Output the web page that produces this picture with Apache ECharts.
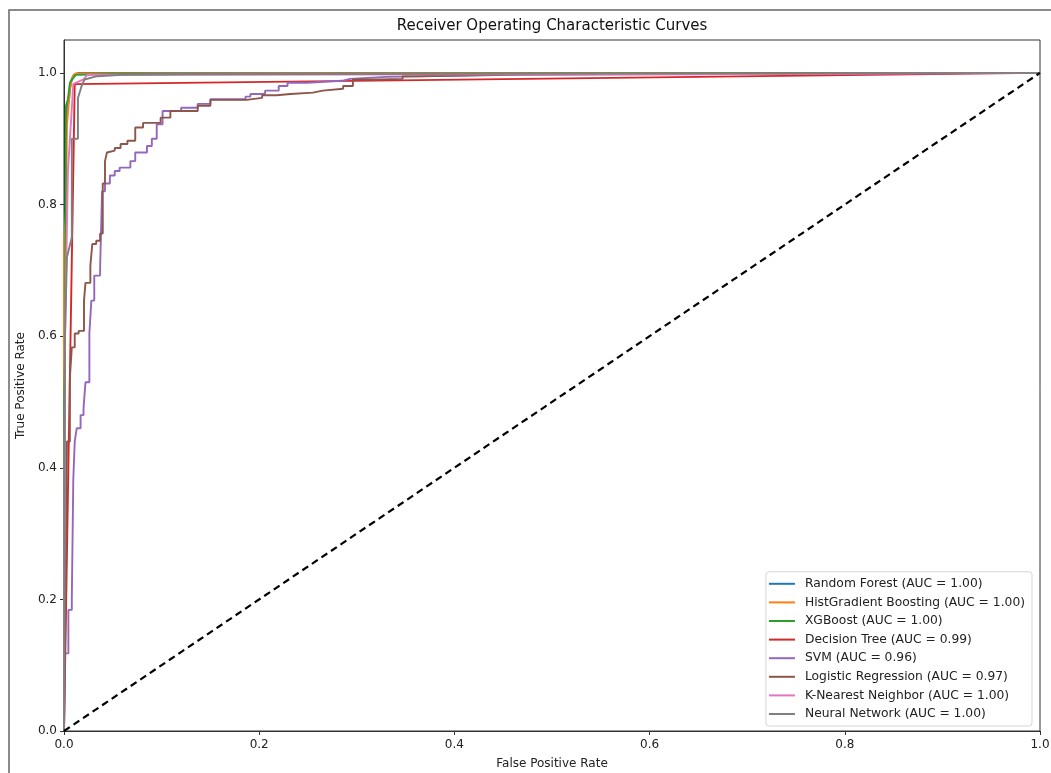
<!DOCTYPE html>
<html>
<head>
<meta charset="utf-8">
<script src="https://cdn.jsdelivr.net/npm/echarts@6/dist/echarts.min.js"></script>
<style>
html,body{margin:0;padding:0;background:#fff;}
#chart{width:1051px;height:773px;}
</style>
</head>
<body>
<div id="chart"></div>
<script>
const modelNames = [
  'Random Forest (AUC = 1.00)',
  'HistGradient Boosting (AUC = 1.00)',
  'XGBoost (AUC = 1.00)',
  'Decision Tree (AUC = 0.99)',
  'SVM (AUC = 0.96)',
  'Logistic Regression (AUC = 0.97)',
  'K-Nearest Neighbor (AUC = 1.00)',
  'Neural Network (AUC = 1.00)'
];
const modelColors = ['#1f77b4','#ff7f0e','#2ca02c','#d62728','#9467bd','#8c564b','#e377c2','#7f7f7f'];

const xTicks = [0, 0.2, 0.4, 0.6, 0.8, 1.0];
const yTicks = [0, 0.2, 0.4, 0.6, 0.8, 1.0];

// [fpr, tpr] points
const rfRoc = [[0,0],[0.001,0.70],[0.002,0.78],[0.002,0.90],[0.003,0.947],[0.005,0.957],[0.007,0.988],[0.010,0.997],[0.015,1.0],[1,1]];
const hgbRoc = [[0,0],[0,0.74],[0.002,0.79],[0.003,0.92],[0.006,0.975],[0.009,0.995],[0.012,0.999],[0.09,0.999],[0.09,1.0],[1,1]];
const xgbRoc = [[0,0],[0,0.5],[0.001,0.56],[0.002,0.95],[0.004,0.96],[0.006,0.985],[0.012,0.997],[0.05,0.998],[0.05,1.0],[1,1]];
const dtRoc = [[0,0],[0.011,0.983],[1,1]];
const svmRoc = [[0,0],[0.001,0],[0.001,0.118],[0.0045,0.118],[0.0045,0.184],[0.008,0.184],[0.008,0.2],[0.0095,0.2],[0.0095,0.381],[0.011,0.381],[0.011,0.44],[0.013,0.44],[0.013,0.46],[0.017,0.46],[0.017,0.48],[0.02,0.48],[0.02,0.49],[0.022,0.49],[0.022,0.53],[0.026,0.53],[0.026,0.604],[0.028,0.604],[0.028,0.654],[0.031,0.654],[0.031,0.692],[0.037,0.692],[0.037,0.704],[0.039,0.704],[0.039,0.82],[0.042,0.82],[0.042,0.832],[0.047,0.832],[0.047,0.844],[0.052,0.844],[0.052,0.851],[0.057,0.851],[0.057,0.856],[0.068,0.856],[0.068,0.866],[0.073,0.866],[0.073,0.879],[0.085,0.879],[0.085,0.889],[0.09,0.889],[0.09,0.90],[0.095,0.90],[0.095,0.922],[0.101,0.922],[0.101,0.942],[0.12,0.942],[0.12,0.947],[0.137,0.947],[0.137,0.953],[0.150,0.953],[0.150,0.96],[0.186,0.96],[0.186,0.964],[0.191,0.964],[0.191,0.968],[0.206,0.968],[0.206,0.973],[0.22,0.973],[0.22,0.98],[0.229,0.98],[0.229,0.985],[0.249,0.985],[0.249,0.988],[0.285,0.988],[0.285,0.991],[0.293,0.991],[0.293,0.994],[0.33,0.994],[0.33,0.997],[0.464,0.997],[0.464,1],[1,1]];
const lrRoc = [[0,0],[0.002,0],[0.002,0.26],[0.003,0.26],[0.003,0.44],[0.006,0.44],[0.006,0.537],[0.008,0.537],[0.008,0.583],[0.011,0.583],[0.011,0.604],[0.015,0.604],[0.015,0.608],[0.0205,0.608],[0.0205,0.654],[0.022,0.654],[0.022,0.681],[0.027,0.681],[0.027,0.707],[0.029,0.707],[0.029,0.74],[0.033,0.74],[0.033,0.745],[0.037,0.745],[0.037,0.756],[0.0397,0.756],[0.0397,0.832],[0.042,0.832],[0.042,0.866],[0.044,0.866],[0.044,0.879],[0.046,0.879],[0.046,0.882],[0.052,0.882],[0.052,0.886],[0.058,0.886],[0.058,0.892],[0.065,0.892],[0.065,0.897],[0.073,0.897],[0.073,0.917],[0.081,0.917],[0.081,0.924],[0.099,0.924],[0.099,0.932],[0.109,0.932],[0.109,0.942],[0.137,0.942],[0.137,0.950],[0.15,0.95],[0.15,0.959],[0.187,0.959],[0.187,0.962],[0.203,0.962],[0.203,0.966],[0.218,0.966],[0.218,0.968],[0.232,0.968],[0.232,0.97],[0.255,0.97],[0.255,0.973],[0.265,0.973],[0.265,0.976],[0.286,0.976],[0.286,0.98],[0.296,0.98],[0.296,0.99],[0.323,0.99],[0.323,0.991],[0.347,0.991],[0.347,0.995],[0.362,0.995],[0.362,0.997],[0.47,0.998],[0.47,1],[1,1]];
const knnRoc = [[0,0],[0,0.1],[0.001,0.6],[0.004,0.85],[0.009,0.97],[0.0095,0.983],[0.012,0.985],[0.02,0.99],[0.024,0.997],[0.5,0.998],[0.65,0.998],[0.65,1],[1,1]];
const nnRoc = [[0,0],[0.001,0.6],[0.003,0.72],[0.008,0.75],[0.008,0.9],[0.0143,0.9],[0.0143,0.962],[0.016,0.97],[0.018,0.98],[0.021,0.99],[0.034,0.995],[0.06,0.997],[0.127,0.998],[0.127,1.0],[1,1]];
const chanceLine = [[0,0],[1,1]];

const rocData = [rfRoc, hgbRoc, xgbRoc, dtRoc, svmRoc, lrRoc, knnRoc, nnRoc];

const FONT = 'DejaVu Sans';
const chart = echarts.init(document.getElementById('chart'), null, {renderer:'canvas'});

const series = rocData.map((d, i) => ({
  name: modelNames[i],
  type: 'line',
  data: d,
  showSymbol: false,
  symbol: 'none',
  lineStyle: {color: modelColors[i], width: 1.9},
  itemStyle: {color: modelColors[i]},
  clip: true,
  animation: false
}));
series.push({
  name: 'chance',
  type: 'line',
  data: chanceLine,
  showSymbol: false,
  symbol: 'none',
  lineStyle: {color: '#000', width: 2.2, type: [7, 4.5]},
  animation: false
});

chart.setOption({
  animation: false,
  backgroundColor: '#fff',
  grid: {left: 64, right: 11, top: 40, bottom: 42, show: true, borderColor: '#333', borderWidth: 1, backgroundColor: 'transparent', containLabel: false, outerBoundsMode: 'none'},
  graphic: [
    {type: 'rect', shape: {x: 9, y: 10, width: 1100, height: 800}, style: {fill: 'none', stroke: '#666', lineWidth: 1.5}, silent: true, z: 0},
    {type: 'text', x: 552, y: 26, style: {text: 'Receiver Operating Characteristic Curves', font: '15px "DejaVu Sans"', fill: '#111', textAlign: 'center', textVerticalAlign: 'middle'}, z: 10}
  ],
  legend: {
    data: modelNames,
    orient: 'vertical',
    right: 19,
    bottom: 47,
    icon: 'rect',
    itemWidth: 26,
    itemHeight: 2,
    itemGap: 6.6,
    padding: [6, 7, 6, 3],
    backgroundColor: '#fff',
    borderColor: '#d5d5d5',
    borderWidth: 1,
    borderRadius: 3,
    textStyle: {fontFamily: FONT, fontSize: 12.3, color: '#222', padding: [0, 0, 0, 5]},
    selectedMode: false
  },
  xAxis: {
    type: 'value',
    min: 0, max: 1, interval: 0.2,
    name: 'False Positive Rate',
    nameLocation: 'middle',
    nameGap: 27,
    nameTextStyle: {fontFamily: FONT, fontSize: 12, color: '#222'},
    axisLine: {show: true, lineStyle: {color: '#333', width: 1}},
    axisTick: {show: true, length: 4, lineStyle: {color: '#333'}, customValues: xTicks},
    axisLabel: {fontFamily: FONT, fontSize: 12, color: '#222', margin: 8, customValues: xTicks, formatter: v => v.toFixed(1)},
    splitLine: {show: false}
  },
  yAxis: {
    type: 'value',
    min: 0, max: 1.05,
    name: 'True Positive Rate',
    nameLocation: 'middle',
    nameGap: 36,
    nameTextStyle: {fontFamily: FONT, fontSize: 12, color: '#222'},
    axisLine: {show: true, lineStyle: {color: '#333', width: 1}},
    axisTick: {show: true, length: 4, lineStyle: {color: '#333'}, customValues: yTicks},
    axisLabel: {fontFamily: FONT, fontSize: 12, color: '#222', margin: 7, customValues: yTicks, formatter: v => v.toFixed(1)},
    splitLine: {show: false}
  },
  series: series
});
</script>
</body>
</html>
